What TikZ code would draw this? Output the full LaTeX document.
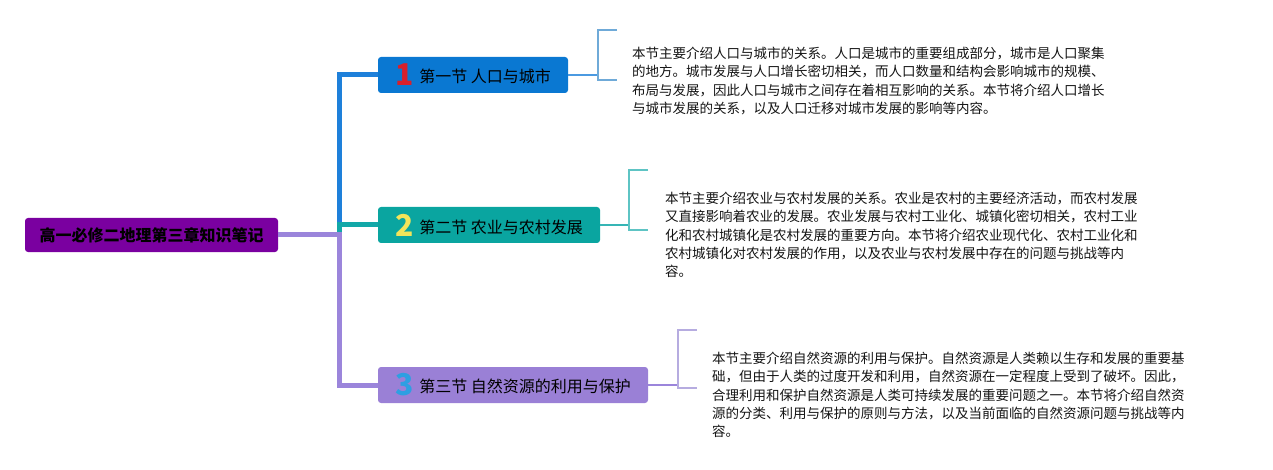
\documentclass[tikz,border=0pt]{standalone}
\usepackage{fontspec}
\setmainfont{Noto Sans CJK SC}
\usetikzlibrary{calc}
\definecolor{rootc}{HTML}{7A00A0}
\definecolor{b1}{HTML}{0A78D2}
\definecolor{b2}{HTML}{0AA5A0}
\definecolor{b3}{HTML}{9A80D6}
\definecolor{l1}{HTML}{1E80DA}
\definecolor{l2}{HTML}{12A8A8}
\definecolor{l3}{HTML}{9B85DB}
\definecolor{k1}{HTML}{6FAAD8}
\definecolor{k2}{HTML}{5EC4C4}
\definecolor{k3}{HTML}{B6ACE0}
\definecolor{n1c}{HTML}{D8202C}
\definecolor{n2c}{HTML}{F2E45A}
\definecolor{n3c}{HTML}{2E9FE2}
\tikzset{
  x=1pt, y=-1pt,
  rootbox/.style={fill=rootc, rounded corners=3pt, minimum width=253pt, minimum height=34pt, inner sep=0pt,
    font=\fontsize{16}{18}\selectfont\bfseries, text=black},
  secbox/.style={rounded corners=3pt, minimum height=36pt, inner sep=0pt,
    font=\fontsize{16}{18}\selectfont, text=black},
  trunk/.style={line width=5pt},
  twig/.style={line width=1.6pt},
  brk/.style={line width=1.6pt},
  desc/.style={anchor=north west, inner sep=0pt, align=left, font=\fontsize{13.5}{18.2}\selectfont, text=black!92},
}
\newcommand{\bignum}[2]{\raisebox{-3pt}{\textcolor{#1}{\fontsize{30}{30}\selectfont\bfseries #2}}\hspace{6pt}}
\begin{document}
\begin{tikzpicture}
\useasboundingbox (0,0) rectangle (1273,470);
% nodes
\node[rootbox] (root) at (151.5,235) {高一必修二地理第三章知识笔记};
\node[secbox, fill=b1, minimum width=190pt] (n1) at (473,75) {\bignum{n1c}{1}第一节 人口与城市};
\node[secbox, fill=b2, minimum width=222pt] (n2) at (489,225) {\bignum{n2c}{2}第二节 农业与农村发展};
\node[secbox, fill=b3, minimum width=270pt] (n3) at (513,385) {\bignum{n3c}{3}第三节 自然资源的利用与保护};
% trunk coordinates
\coordinate (j) at (339,235);
% trunk connectors
\draw[trunk, l1] (j) -- (339,75) -- (n1.west);
\draw[trunk, l2] (j) -- (339,225) -- (n2.west);
\draw[trunk, l3] (root.east) -- (j) -- (339,385) -- (n3.west);
% bracket coordinates
\coordinate (k1a) at (617,30); \coordinate (k1b) at (598,30); \coordinate (k1c) at (598,80); \coordinate (k1d) at (617,80);
\coordinate (k2a) at (648,170); \coordinate (k2b) at (629,170); \coordinate (k2c) at (629,230); \coordinate (k2d) at (648,230);
\coordinate (k3a) at (697,330); \coordinate (k3b) at (678,330); \coordinate (k3c) at (678,388); \coordinate (k3d) at (697,388);
\draw[twig, l1!80] (n1.east) -- (598,75);
\draw[twig, l2!85] (n2.east) -- (629,225);
\draw[twig, l3] (n3.east) -- (678,385);
\draw[brk, k1] (k1a) -- (k1b) -- (k1c) -- (k1d);
\draw[brk, k2] (k2a) -- (k2b) -- (k2c) -- (k2d);
\draw[brk, k3] (k3a) -- (k3b) -- (k3c) -- (k3d);
% descriptions
\node[desc] (d1) at (632,47) {本节主要介绍人口与城市的关系。人口是城市的重要组成部分，城市是人口聚集\\
的地方。城市发展与人口增长密切相关，而人口数量和结构会影响城市的规模、\\
布局与发展，因此人口与城市之间存在着相互影响的关系。本节将介绍人口增长\\
与城市发展的关系，以及人口迁移对城市发展的影响等内容。};
\node[desc] (d2) at (665,192) {本节主要介绍农业与农村发展的关系。农业是农村的主要经济活动，而农村发展\\
又直接影响着农业的发展。农业发展与农村工业化、城镇化密切相关，农村工业\\
化和农村城镇化是农村发展的重要方向。本节将介绍农业现代化、农村工业化和\\
农村城镇化对农村发展的作用，以及农业与农村发展中存在的问题与挑战等内\\
容。};
\node[desc] (d3) at (712,352) {本节主要介绍自然资源的利用与保护。自然资源是人类赖以生存和发展的重要基\\
础，但由于人类的过度开发和利用，自然资源在一定程度上受到了破坏。因此，\\
合理利用和保护自然资源是人类可持续发展的重要问题之一。本节将介绍自然资\\
源的分类、利用与保护的原则与方法，以及当前面临的自然资源问题与挑战等内\\
容。};
\end{tikzpicture}
\end{document}
